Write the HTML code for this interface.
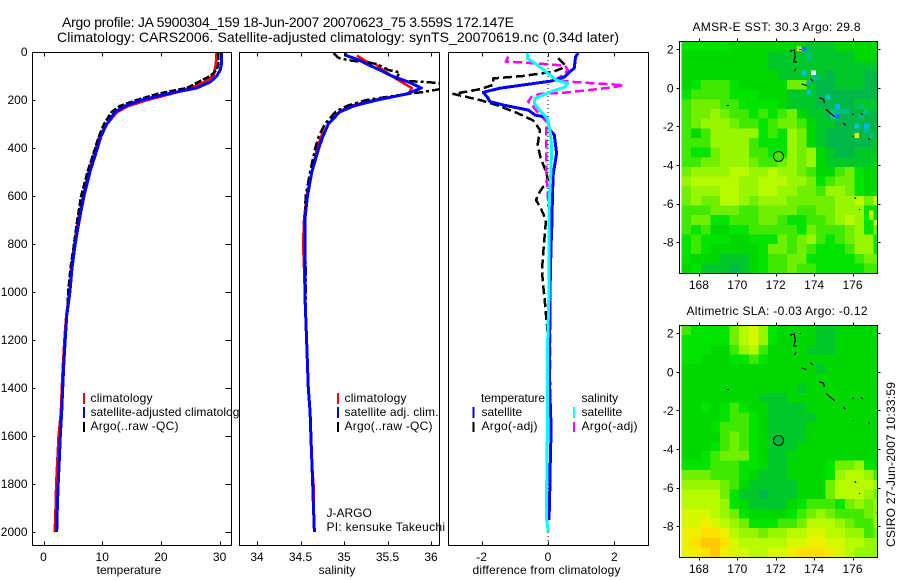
<!DOCTYPE html>
<html>
<head>
<meta charset="utf-8">
<title>Argo profile</title>
<style>
html,body{margin:0;padding:0;background:#fff;}
svg{display:block;}
text{font-family:"Liberation Sans",sans-serif;font-size:12px;fill:#000;}
</style>
</head>
<body>
<svg id="fig" width="900" height="580" viewBox="0 0 900 580" xmlns="http://www.w3.org/2000/svg">
<defs>
<clipPath id="c1"><rect x="32" y="52" width="199" height="493"/></clipPath>
<clipPath id="c2"><rect x="239.5" y="52" width="200" height="493"/></clipPath>
<clipPath id="c3"><rect x="448.5" y="52" width="200" height="493"/></clipPath>
<clipPath id="m1"><rect x="679.5" y="41.5" width="198" height="232"/></clipPath>
<clipPath id="m2"><rect x="679.5" y="325.5" width="198" height="232"/></clipPath>
</defs>
<rect width="900" height="580" fill="#fff"/>
<text x="62" y="27" style="font-size:14px" textLength="452" lengthAdjust="spacing">Argo profile: JA 5900304_159 18-Jun-2007 20070623_75 3.559S 172.147E</text>
<text x="57" y="42" style="font-size:14px" textLength="562" lengthAdjust="spacing">Climatology: CARS2006. Satellite-adjusted climatology: synTS_20070619.nc (0.34d later)</text>

<g id="p1">
<rect x="32.5" y="52.5" width="199" height="493" fill="#fff"/>
<g id="p1marks" clip-path="url(#c1)"></g>
<g>
<rect x="83" y="393" width="2" height="11" fill="#f00"/>
<rect x="83" y="407" width="2" height="11" fill="#00f"/>
<rect x="83" y="422" width="2" height="10" fill="#000"/>
<text x="90.5" y="402" textLength="62" lengthAdjust="spacing">climatology</text>
<text x="90.5" y="416" textLength="155" lengthAdjust="spacing">satellite-adjusted climatology</text>
<text x="90.5" y="430" textLength="88" lengthAdjust="spacing">Argo(..raw -QC)</text>
</g>
<text x="129" y="574" text-anchor="middle">temperature</text>
</g>

<g id="p2">
<rect x="239.5" y="52.5" width="200" height="493" fill="#fff"/>
<g id="p2marks" clip-path="url(#c2)"></g>
<g>
<rect x="337" y="393" width="2" height="11" fill="#f00"/>
<rect x="337" y="407" width="2" height="11" fill="#00f"/>
<rect x="337" y="422" width="2" height="10" fill="#000"/>
<text x="344.5" y="402" textLength="62" lengthAdjust="spacing">climatology</text>
<text x="344.5" y="416" textLength="94" lengthAdjust="spacing">satellite adj. clim.</text>
<text x="344.5" y="430" textLength="88" lengthAdjust="spacing">Argo(..raw -QC)</text>
</g>
<text x="326.5" y="517">J-ARGO</text>
<text x="326.5" y="531" textLength="118.5" lengthAdjust="spacing">PI: kensuke Takeuchi</text>
<text x="337" y="574" text-anchor="middle">salinity</text>
</g>

<g id="p3">
<rect x="448.5" y="52.5" width="200" height="493" fill="#fff"/>
<g id="p3marks" clip-path="url(#c3)"></g>
<g>
<text x="481" y="402" textLength="64" lengthAdjust="spacing">temperature</text>
<rect x="472.5" y="407" width="2" height="11" fill="#00f"/>
<rect x="472.5" y="422" width="2" height="10" fill="#000"/>
<text x="481.5" y="416">satellite</text>
<text x="481.5" y="430" textLength="56" lengthAdjust="spacing">Argo(-adj)</text>
<text x="581.5" y="402">salinity</text>
<rect x="573" y="407" width="2" height="11" fill="#0ff"/>
<rect x="573" y="422" width="2" height="10" fill="#f0f"/>
<text x="581.5" y="416">satellite</text>
<text x="581.5" y="430" textLength="56" lengthAdjust="spacing">Argo(-adj)</text>
</g>
<text x="472.5" y="574" textLength="148" lengthAdjust="spacing">difference from climatology</text>
</g>

<g id="map1">
<text x="692.5" y="31" textLength="168" lengthAdjust="spacing">AMSR-E SST: 30.3 Argo: 29.8</text>
</g>
<g id="map2">
<text x="686.5" y="315" textLength="181" lengthAdjust="spacing">Altimetric SLA: -0.03 Argo: -0.12</text>
</g>
<text transform="translate(895,547) rotate(-90)" textLength="165" lengthAdjust="spacing">CSIRO 27-Jun-2007 10:33:59</text>
</svg>

<script>
// ---------- axis ticks ----------
const depthTicks = [0,200,400,600,800,1000,1200,1400,1600,1800,2000];
const tempTicks = [0,10,20,30];
const salTicks = [34,34.5,35,35.5,36];
const diffTicks = [-2,0,2];
const lonTicks = [168,170,172,174,176];
const latTicks = [2,0,-2,-4,-6,-8];

// ---------- temperature panel ----------
const depths = [5,25,50,75,100,125,150,175,200,225,250,300,350,400,500,600,700,800,900,1000,1100,1200,1300,1400,1500,1600,1700,1800,1900,2000];
const tempClim = [29.5,29.45,29.4,29.2,28.9,27.5,25.2,21.5,17.6,14.4,12.5,10.8,9.6,8.95,7.7,6.8,5.9,5.3,4.8,4.45,3.9,3.6,3.35,3.15,3.0,2.6,2.4,2.2,2.1,1.96];
const tempSat = [30.3,30.3,30.3,30.1,29.5,28.4,26.1,21,16.7,13.9,12.2,10.8,9.8,9.2,7.9,6.9,6.1,5.4,4.85,4.5,3.95,3.7,3.45,3.27,3.1,2.87,2.7,2.5,2.35,2.25];
const tempArgoDepths = [5,25,50,75,100,125,150,175,200,225,250,300,350,400,500,600,700,800,900,1000,1050];
const tempArgo = [29.8,29.8,29.8,29.5,28.4,26.4,24.4,19.3,15.9,13,11.6,10.3,9.45,8.8,7.5,6.4,5.75,5.2,4.6,4.2,4.1];

// ---------- salinity panel ----------
const salClimDepths = [15,40,50,75,100,125,150,175,200,225,250,300,350,400,500,600,700,800,900,1000,1100,1200,1300,1400,1500,1600,1700,1800,1900,2000];
const salClim = [35.15,35.26,35.36,35.45,35.55,35.66,35.78,35.74,35.34,35.07,34.94,34.82,34.74,34.69,34.63,34.57,34.54,34.53,34.54,34.55,34.56,34.57,34.58,34.59,34.61,34.62,34.63,34.65,34.65,34.66];
const salSatDepths = [5,15,30,50,75,100,125,150,175,200,225,250,300,350,400,500,600,700,800,1000,1200,1400,1500,1600,1700,1800,1900,2000];
const salSat = [35.01,35.03,35.15,35.26,35.41,35.55,35.74,35.89,35.72,35.38,35.11,34.95,34.82,34.76,34.71,34.63,34.58,34.55,34.55,34.55,34.57,34.59,34.61,34.62,34.63,34.64,34.65,34.66];
const salArgoDepths = [5,25,35,50,75,85,110,121,129,155,167,175,200,225,250,300,350,400,500,600,700,800,900,1000,1050];
const salArgo = [34.88,34.94,35.07,35.38,35.51,35.64,35.6,35.73,36.1,36.1,35.9,35.72,35.26,35.03,34.9,34.78,34.71,34.67,34.61,34.56,34.55,34.55,34.56,34.56,34.56];

// ---------- difference panel ----------
const diffTSatDepths = [5,20,68,82,103,121,151,168,193,207,221,242,263,272,325,346,423,464,506,575,742,811,1000,1200,1400,1550,1650,1750,1850,1950];
const diffTSat = [0.91,0.83,0.79,0.66,0.51,0.11,-1.45,-1.95,-1.8,-1.75,-1.35,-0.59,-0.39,-0.04,0.06,0.19,0.26,0.21,0.16,0.14,0.11,0.09,0.06,0.05,0.05,0.09,0.08,0.06,0.05,0.03];
const diffSSatDepths = [5,26,47,68,90,117,131,146,167,193,215,236,278,325,394,519,617,811,1000,1200,1478,1811,1950,2000];
const diffSSat = [-0.62,-0.62,-0.39,-0.19,0.01,0.26,0.59,0.51,0.06,-0.39,-0.41,-0.29,-0.02,0.06,0.11,0.08,0.04,0.03,0.03,-0.01,-0.01,-0.04,-0.04,0.01];
const diffTArgoDepths = [26,54,68,82,90,100,110,137,155,175,200,221,256,285,325,350,387,443,506,533,581,617,644,700,797,866,915,964,1033,1096,1150,1200,1400,1500];
const diffTArgo = [0.31,0.51,0.42,0.16,-0.24,-0.75,-1.65,-1.65,-2.05,-2.85,-2.05,-1.55,-0.9,-0.45,-0.24,-0.27,-0.31,-0.22,-0.04,-0.01,-0.24,-0.36,-0.24,-0.06,-0.12,-0.16,-0.18,-0.15,-0.1,-0.06,-0.02,0,0.07,0.07];
const diffSArgoDepths = [19,40,43,51,57,75,96,117,126,138,147,158,169,175,186,207,228,263,290,367,464,547,630,742,922,1200,1338];
const diffSArgo = [-1.2,-1.27,-0.84,-0.04,0.51,0.6,0.45,0.21,0.86,2.27,1.96,1.27,0.51,-0.24,-0.49,-0.6,-0.45,-0.24,-0.04,-0.06,-0.06,-0.03,0.01,0.06,0.06,0.06,0.06];

// ---------- map data (0.5 degree rows, north to south; letters index levelColors) ----------
const levelColors = {a:'#00b848',b:'#00c828',c:'#00d800',d:'#00e400',e:'#40ea00',f:'#70f000',g:'#98f600',h:'#b8fa00',i:'#d8f800',j:'#eef000',k:'#ffe000',l:'#ffc800',m:'#00c080',n:'#00c8c8',o:'#00b8f0',p:'#0080ff',q:'#ffffff',r:'#e8f000'};
const sstRows = [
"dddddccccccccbbbccccc",
"cccccccccbbbbbbbbbccc",
"cccccccccbbbbbbbbbbbb",
"ccccccccccbbbbbabbbaa",
"cdeeedcccccffbaabbbaa",
"deeeedddcccbbbaaaaaaa",
"efffeeddddcbbbaaaabbb",
"effgfeededefcbbaaaaaa",
"efgggfeedeffecbbaaaaa",
"ecegggggdedgfcbaaaaaa",
"eeeggggedddgfcbaaaaab",
"eddfgggeeddgfgcbaabbb",
"eeffgggfeefgfgcbbbbbc",
"fgggghhgghggfeccefdcc",
"ghhhhhgghhhggfdeffdcc",
"fggghhgghhggffeggfdcc",
"fgffhhgfgggfffffgghfh",
"eeefffeeffffeeffgggdc",
"effddeeeffeddeefghgdd",
"edeccddeeeeedfeeefgdf",
"dedddccdddfefgedefggd",
"dedcccccdffefedddeggd",
"dcccbbbcdeeffdddddeff",
"cdbbbabcdeefeedddddee"
];
const slaRows = [
"eddddfhigdccccbbccccc",
"dddddfhigdccccbbccccc",
"dddccegheccccbbbccccc",
"ddcccddedcccccccccccc",
"ccccccccccccccbcccccc",
"ccccccccccccccccccccc",
"ccccccccccccbcccccccc",
"ccccccccbbbcccccccccc",
"ccdcdedccbbbbcccccccc",
"ccccdeedcbbbbbccccccc",
"cccdeeedcbbbbcccccccc",
"ccccefedcbbbbcccccccc",
"cccdefedcbbbccccccccc",
"ccdefffdcbbcccccccccc",
"dddeeeddcbbccccdffgdc",
"fffeeedcbbbccccdghhge",
"ggggfecbbbbbcccfhhhhg",
"hhhhfdbbabbbcccfhhhgf",
"hhhhgdcbbbbcdeeedfgfg",
"iiihgfdccccdefgfeeefg",
"iijihgfdddeefhhhgfeeg",
"jjkkjhggfgghhiihhggef",
"jkllkihhhhhiijjiihhgg",
"jjkljiihhiijkkkjihggg"
];
// quarter-degree anomalies in the SST field: west longitude edge, north latitude edge, level
const sstCellLons = [173.1,173.35,173.35,173.6,173.6,173.85,173.6,173.85,174.1,173.6,174.6,174.85,175.1,175.1,174.85,175.1,175.35,175.6,176.1,176.35,176.6,176.6,176.85,176.1,176.35,176.6,176.85,176.85,177.1];
const sstCellLats = [2.15,2.15,0.9,1.9,1.65,0.9,0.4,0.65,0.65,-0.1,-0.35,-1.1,-0.85,-1.35,-1.35,-1.1,-1.1,-1.1,-1.85,-1.35,-1.85,-2.1,-2.35,-2.35,-0.85,-1.1,-6.35,-6.6,-6.85];
const sstCellLevels = ['r','p','n','m','m','q','m','m','m','n','n','m','o','p','n','m','m','m','n','m','o','m','m','r','m','m','r','g','r'];

// island outlines shared by both maps
const islandLons = [[172.74,172.97,173.02,172.92,173.12],[173.22,173.32],[172.97,173.05],[173.35,173.47,173.61],[173.79,173.96],[174.26,174.49,174.54],[174.62,174.83,175.09],[176.01,176.04],[176.44,176.53],[175.52,175.63],[176.01,176.05],[176.82,176.91],[176.11,176.18],[176.35,176.38],[177.22,177.25],[169.45,169.58]];
const islandLats = [[1.9,1.95,1.6,1.34,1.34],[1.98,1.98],[0.86,1.0],[0.22,0.15,0.13],[0.48,0.34],[-0.52,-0.59,-0.78],[-1.12,-1.3,-1.51],[-1.33,-1.42],[-1.33,-1.42],[-1.82,-1.94],[-2.52,-2.52],[-2.63,-2.68],[-5.68,-5.76],[-6.3,-6.3],[-7.29,-7.29],[-0.92,-0.92]];
const floatLon = 172.147;
const floatLat = -3.559;
const sstFloatLevel = 'e';
const slaFloatLevel = 'a';

// ---------- axis functions ----------
function yDepth(d){ return 52 + 0.24*d; }
function xTemp(t){ return 43.5 + 5.87*t; }
function xSal(s){ return 257 + 87*(s-34); }
function xDiff(v){ return 548 + 33.2*v; }
function xLon(lon){ return 775.7 + 19.2*(lon-172); }
function yLat1(lat){ return 87.8 - 19.3*lat; }
function yLat2(lat){ return 371.8 - 19.3*lat; }

const NS = 'http://www.w3.org/2000/svg';
function mk(tag, attrs, parent){
  const el = document.createElementNS(NS, tag);
  for (const k in attrs) el.setAttribute(k, attrs[k]);
  parent.appendChild(el);
  return el;
}
function drawLine(parent, xs, ys, color, width, dash, name){
  let pts = '';
  for (let i=0;i<xs.length;i++) pts += xs[i].toFixed(1)+','+ys[i].toFixed(1)+' ';
  const a = {points:pts, fill:'none', stroke:color, 'stroke-width':width, 'shape-rendering':'crispEdges', 'stroke-linejoin':'round'};
  if (dash) a['stroke-dasharray'] = dash;
  const el = mk('polyline', a, parent);
  
  
}
function series(parent, values, deps, xf, color, width, dash, name){
  drawLine(parent, values.map(xf), deps.map(yDepth), color, width, dash, name);
}
function tickLine(parent, x1, y1, x2, y2){
  const el = mk('line', {x1:x1,y1:y1,x2:x2,y2:y2,stroke:'#000','stroke-width':1,'shape-rendering':'crispEdges'}, parent);
  
  
}
function tickText(parent, x, y, anchor, str){
  const el = mk('text', {x:x,y:y,'text-anchor':anchor}, parent);
  el.textContent = str;
  
  
}
function frame(parent, x, y, w, h){
  const el = mk('rect', {x:x,y:y,width:w,height:h,fill:'none',stroke:'#000','stroke-width':1,'shape-rendering':'crispEdges'}, parent);
  
  
}
function profileAxes(parent, left, right, ticks, xf){
  frame(parent, left, 52.5, right-left, 493);
  ticks.forEach(function(t){
    const x = Math.round(xf(t))+0.5;
    tickLine(parent, x, 52.5, x, 56.5);
    tickLine(parent, x, 541.5, x, 545.5);
    tickText(parent, xf(t), 561, 'middle', String(t));
  });
}

// ---------- profile panels ----------
const p1m = document.getElementById('p1marks');
series(p1m, tempClim, depths, xTemp, '#f00', 3, null, 'temperature-climatology-line');
series(p1m, tempArgo, tempArgoDepths, xTemp, '#000', 2.5, '7,2', 'temperature-argo-line');
series(p1m, tempSat, depths, xTemp, '#00f', 3, null, 'temperature-satellite-line');

const p2m = document.getElementById('p2marks');
series(p2m, salClim, salClimDepths, xSal, '#f00', 2.5, null, 'salinity-climatology-line');
series(p2m, salArgo, salArgoDepths, xSal, '#000', 2.5, '9,3,3,3', 'salinity-argo-line');
series(p2m, salSat, salSatDepths, xSal, '#00f', 3, null, 'salinity-satellite-line');

const p3m = document.getElementById('p3marks');
const zeroLine = mk('line', {x1:xDiff(0),y1:52,x2:xDiff(0),y2:545,stroke:'#000','stroke-width':1,'stroke-dasharray':'1,3','shape-rendering':'crispEdges'}, p3m);


series(p3m, diffTArgo, diffTArgoDepths, xDiff, '#000', 2.5, '9,4', 'difference-temp-argo-line');
series(p3m, diffSArgo, diffSArgoDepths, xDiff, '#f0f', 2.5, '9,4', 'difference-sal-argo-line');
series(p3m, diffTSat, diffTSatDepths, xDiff, '#00f', 3, null, 'difference-temp-satellite-line');
series(p3m, diffSSat, diffSSatDepths, xDiff, '#0ff', 3, null, 'difference-sal-satellite-line');

const p1 = document.getElementById('p1');
const p2 = document.getElementById('p2');
const p3 = document.getElementById('p3');
profileAxes(p1, 32.5, 231.5, tempTicks, xTemp);
profileAxes(p2, 239.5, 439.5, salTicks, xSal);
profileAxes(p3, 448.5, 648.5, diffTicks, xDiff);
depthTicks.forEach(function(d){
  const y = Math.round(yDepth(d))+0.5;
  if (d > 0) tickLine(p1, 32.5, y, 35.5, y);
  tickLine(p1, 225.5, y, 231.5, y);
  tickText(p1, 27.5, yDepth(d)+4, 'end', String(d));
});

// ---------- maps ----------
function drawMap(groupId, clipId, rows, yLat, cellLons, cellLats, cellLevels, floatLevel, top, bottom, labelY){
  const group = document.getElementById(groupId);
  const clipped = mk('g', {'clip-path':'url(#'+clipId+')'}, group);
  
  
  const step = 0.5;
  rows.forEach(function(row, r){
    for (let c=0;c<row.length;c++){
      const lon = 167.1 + c*step;
      const lat = 2.4 - r*step;
      const x = xLon(lon), y = yLat(lat);
      const cell = mk('rect', {x:x.toFixed(1),y:y.toFixed(1),width:(xLon(lon+step)-x+0.6).toFixed(1),height:(yLat(lat-step)-y+0.6).toFixed(1),fill:levelColors[row.charAt(c)],'shape-rendering':'crispEdges'}, clipped);
      
      
    }
  });
  cellLons.forEach(function(lon, i){
    const x = xLon(lon), y = yLat(cellLats[i]);
    const cell = mk('rect', {x:x.toFixed(1),y:y.toFixed(1),width:(xLon(lon+0.25)-x).toFixed(1),height:(yLat(cellLats[i]-0.25)-y).toFixed(1),fill:levelColors[cellLevels[i]],'shape-rendering':'crispEdges'}, clipped);
    
    
  });
  islandLons.forEach(function(lons, i){
    let pts = '';
    lons.forEach(function(lon, j){ pts += xLon(lon).toFixed(1)+','+yLat(islandLats[i][j]).toFixed(1)+' '; });
    const isl = mk('polyline', {points:pts,fill:'none',stroke:'#000','stroke-width':1.2,'shape-rendering':'crispEdges'}, clipped);
    
    
  });
  const marker = mk('circle', {cx:xLon(floatLon),cy:yLat(floatLat),r:5,fill:levelColors[floatLevel],stroke:'#000','stroke-width':1}, clipped);
  
  
  frame(group, 679.5, top, 198, bottom-top);
  lonTicks.forEach(function(lon){
    const x = Math.round(xLon(lon))+0.5;
    tickLine(group, x, top-3, x, top);
    tickLine(group, x, bottom, x, bottom+3);
    tickText(group, xLon(lon), labelY, 'middle', String(lon));
  });
  latTicks.forEach(function(lat){
    const y = Math.round(yLat(lat))+0.5;
    tickLine(group, 676.5, y, 679.5, y);
    tickLine(group, 877.5, y, 880.5, y);
    tickText(group, 673.5, yLat(lat)+4.5, 'end', String(lat));
  });
}
drawMap('map1', 'm1', sstRows, yLat1, sstCellLons, sstCellLats, sstCellLevels, sstFloatLevel, 41.5, 273.5, 289);
drawMap('map2', 'm2', slaRows, yLat2, [], [], [], slaFloatLevel, 325.5, 557.5, 573);
</script>
</body>
</html>
